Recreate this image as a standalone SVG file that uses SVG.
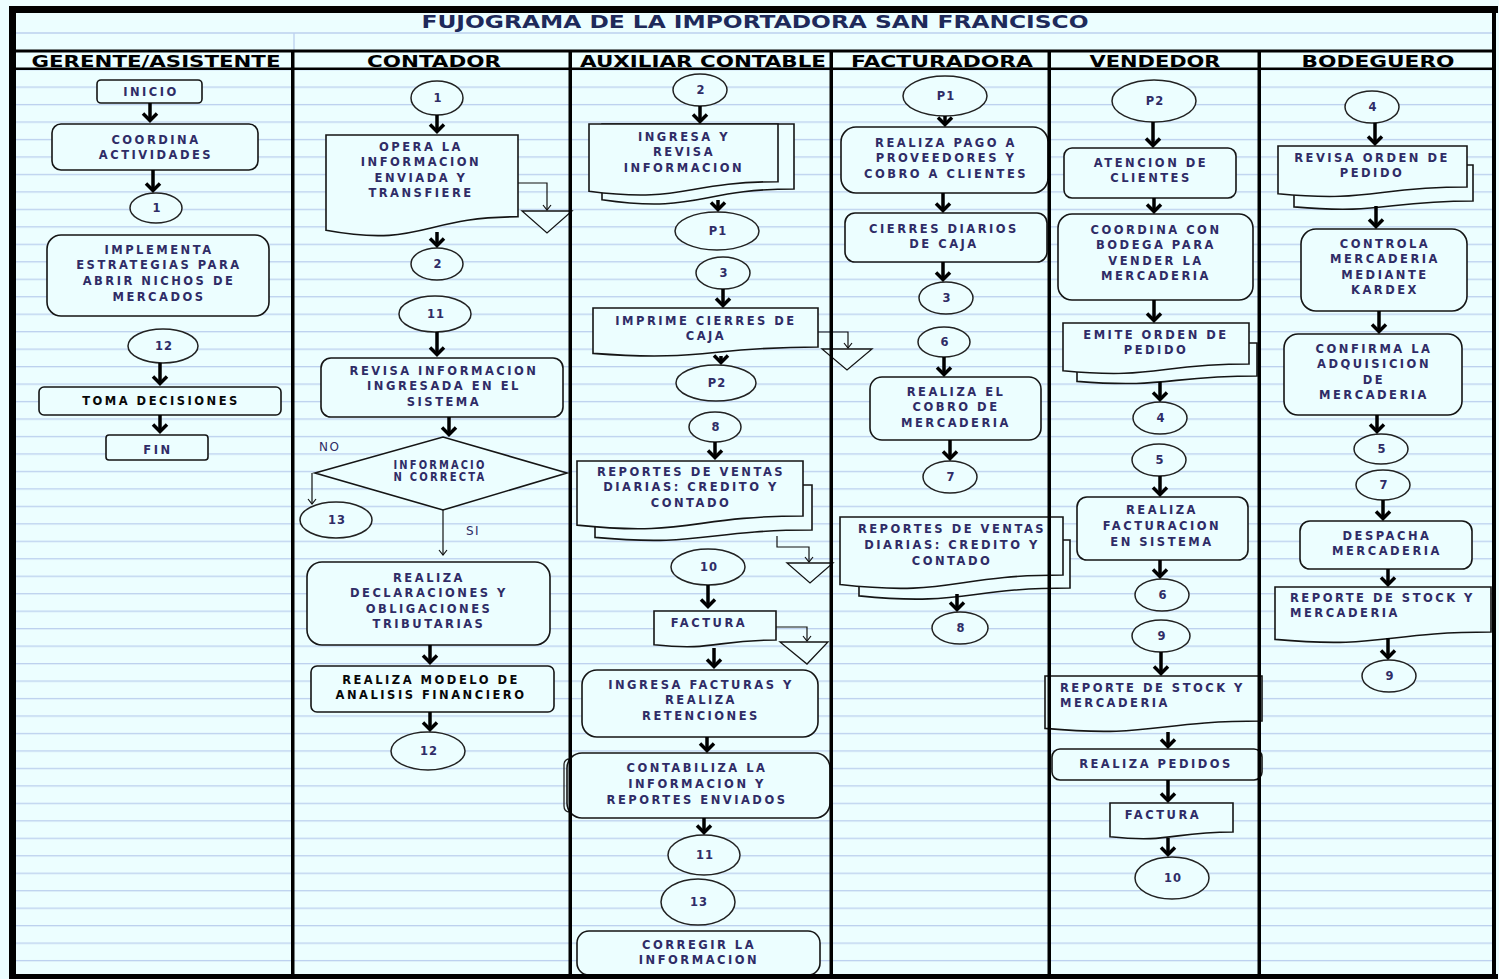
<svg xmlns="http://www.w3.org/2000/svg" width="1499" height="979" viewBox="0 0 1499 979">
<defs>
<style>
.sh{fill:#ECFEFF;stroke:#151515;stroke-width:1.6}
.cn{fill:#ECFEFF;stroke:#222;stroke-width:1.5}
.t{font-family:"DejaVu Sans",sans-serif;font-size:11.5px;font-weight:bold;fill:#2F2C66;letter-spacing:2.5px;text-anchor:middle}
.tl{text-anchor:start}
.tb{fill:#080808}
.tn{letter-spacing:1px}
.hd{font-family:"DejaVu Sans",sans-serif;font-size:15px;font-weight:bold;fill:#000;text-anchor:middle}
.lb{font-family:"DejaVu Sans",sans-serif;font-size:12px;fill:#2F2C66;letter-spacing:1.5px}
.ar{stroke:#000;stroke-width:3.5;fill:none;marker-end:url(#ah)}
.th{stroke:#111;stroke-width:1.2;fill:none;marker-end:url(#as)}
.tri{fill:#ECFEFF;stroke:#151515;stroke-width:1.3}
.frame{fill:#000}
.grid{stroke:#BCD0EE;stroke-width:1.3}
</style>
<marker id="ah" markerUnits="userSpaceOnUse" viewBox="-12 -10 16 20" markerWidth="16" markerHeight="20" refX="0" refY="0" orient="auto">
<path d="M-7,-7 L0,0 L-7,7" fill="none" stroke="#000" stroke-width="3.5"/>
</marker>
<marker id="as" markerUnits="userSpaceOnUse" viewBox="-8 -6 10 12" markerWidth="10" markerHeight="12" refX="0" refY="0" orient="auto">
<path d="M-5,-4 L0,0 L-5,4" fill="none" stroke="#111" stroke-width="1.2"/>
</marker>
<pattern id="gp" x="0" y="69" width="20" height="17.47" patternUnits="userSpaceOnUse">
<rect x="0" y="0" width="20" height="1.3" fill="#BCD0EE"/>
</pattern>
</defs>

<rect x="0" y="0" width="1499" height="979" fill="#ECFEFF"/>
<rect x="15" y="69" width="1480" height="906" fill="url(#gp)"/>
<line class="grid" x1="15" y1="33" x2="1495" y2="33"/>
<line class="grid" x1="294" y1="33" x2="294" y2="51"/>

<text x="755" y="28" font-family="DejaVu Sans, sans-serif" font-size="17" font-weight="bold" fill="#1E2A5A" text-anchor="middle" textLength="667" lengthAdjust="spacingAndGlyphs">FUJOGRAMA DE LA IMPORTADORA SAN FRANCISCO</text>

<g id="headers">
<text class="hd" x="156" y="67" textLength="249" lengthAdjust="spacingAndGlyphs">GERENTE/ASISTENTE</text>
<text class="hd" x="434" y="67" textLength="134" lengthAdjust="spacingAndGlyphs">CONTADOR</text>
<text class="hd" x="703" y="67" textLength="246" lengthAdjust="spacingAndGlyphs">AUXILIAR CONTABLE</text>
<text class="hd" x="942" y="67" textLength="182" lengthAdjust="spacingAndGlyphs">FACTURADORA</text>
<text class="hd" x="1155" y="67" textLength="131" lengthAdjust="spacingAndGlyphs">VENDEDOR</text>
<text class="hd" x="1378" y="67" textLength="153" lengthAdjust="spacingAndGlyphs">BODEGUERO</text>
</g>

<!-- GERENTE/ASISTENTE -->
<g id="g_inicio"><rect class="sh" x="97" y="80" width="105" height="23" rx="4"/><text class="t" x="151" y="96">INICIO</text></g>
<g id="g_coordina"><rect class="sh" x="52" y="124" width="206" height="46" rx="9"/><text class="t" x="156" y="144">COORDINA</text><text class="t" x="156" y="159">ACTIVIDADES</text></g>
<g id="g_c1"><ellipse class="cn" cx="156" cy="208" rx="26" ry="15"/><text class="t tn" x="157" y="212">1</text></g>
<g id="g_implementa"><rect class="sh" x="47" y="235" width="222" height="81" rx="14"/><text class="t" x="159" y="254">IMPLEMENTA</text><text class="t" x="159" y="269">ESTRATEGIAS PARA</text><text class="t" x="159" y="285">ABRIR NICHOS DE</text><text class="t" x="159" y="301">MERCADOS</text></g>
<g id="g_c12"><ellipse class="cn" cx="163" cy="346" rx="35" ry="17"/><text class="t tn" x="164" y="350">12</text></g>
<g id="g_toma"><rect class="sh" x="39" y="387" width="242" height="28" rx="5"/><text class="t tb" x="161" y="405">TOMA DECISIONES</text></g>
<g id="g_fin"><rect class="sh" x="106" y="435" width="102" height="25" rx="3"/><text class="t" x="158" y="454">FIN</text></g>

<!-- CONTADOR -->
<g id="c_c1"><ellipse class="cn" cx="437" cy="98" rx="26" ry="17"/><text class="t tn" x="438" y="102">1</text></g>
<g id="c_opera"><path class="sh" d="M326,135 H518 V216.8 C422,216.8 422,247.9 326,230.3 Z"/><text class="t" x="421" y="151">OPERA LA</text><text class="t" x="421" y="166">INFORMACION</text><text class="t" x="421" y="182">ENVIADA Y</text><text class="t" x="421" y="197">TRANSFIERE</text></g>
<g id="c_tri1"><polygon class="tri" points="522,211 572,211 547,233"/></g>
<g id="c_c2"><ellipse class="cn" cx="437" cy="264" rx="26" ry="16"/><text class="t tn" x="438" y="268">2</text></g>
<g id="c_c11"><ellipse class="cn" cx="435" cy="314" rx="36" ry="18"/><text class="t tn" x="436" y="318">11</text></g>
<g id="c_revisa"><rect class="sh" x="321" y="358" width="242" height="59" rx="10"/><text class="t" x="444" y="375">REVISA INFORMACION</text><text class="t" x="444" y="390">INGRESADA EN EL</text><text class="t" x="444" y="406">SISTEMA</text></g>
<g id="c_decision"><polygon class="sh" points="315,473 443,437 567,473 443,510"/><text class="t" x="440" y="469" font-size="8.5" letter-spacing="0" textLength="93" lengthAdjust="spacingAndGlyphs">INFORMACIO</text><text class="t" x="440" y="481" font-size="8.5" letter-spacing="0" textLength="93" lengthAdjust="spacingAndGlyphs">N CORRECTA</text></g>
<text class="lb" x="319" y="451">NO</text>
<text class="lb" x="466" y="535">SI</text>
<g id="c_c13"><ellipse class="cn" cx="336" cy="520" rx="36" ry="18"/><text class="t tn" x="337" y="524">13</text></g>
<g id="c_declara"><rect class="sh" x="307" y="562" width="243" height="83" rx="15"/><text class="t" x="429" y="582">REALIZA</text><text class="t" x="429" y="597">DECLARACIONES Y</text><text class="t" x="429" y="613">OBLIGACIONES</text><text class="t" x="429" y="628">TRIBUTARIAS</text></g>
<g id="c_modelo"><rect class="sh" x="311" y="666" width="243" height="46" rx="6"/><text class="t tb" x="431" y="684">REALIZA MODELO DE</text><text class="t tb" x="431" y="699">ANALISIS FINANCIERO</text></g>
<g id="c_c12"><ellipse class="cn" cx="428" cy="751" rx="37" ry="19"/><text class="t tn" x="429" y="755">12</text></g>

<!-- AUXILIAR CONTABLE -->
<g id="a_c2"><ellipse class="cn" cx="700" cy="90" rx="27" ry="16"/><text class="t tn" x="701" y="94">2</text></g>
<g id="a_ingresa"><path class="sh" d="M602,124 H794 V189 C698,189 698,213.7 602,199.7 Z"/><path class="sh" d="M589,124 H778 V181.7 C683.5,181.7 683.5,203.7 589,191.2 Z"/><text class="t" x="684" y="141">INGRESA Y</text><text class="t" x="684" y="156">REVISA</text><text class="t" x="684" y="172">INFORMACION</text></g>
<g id="a_p1"><ellipse class="cn" cx="717" cy="231" rx="42" ry="19"/><text class="t tn" x="718" y="235">P1</text></g>
<g id="a_c3"><ellipse class="cn" cx="723" cy="273" rx="27" ry="16"/><text class="t tn" x="724" y="277">3</text></g>
<g id="a_imprime"><path class="sh" d="M593,308 H818 V347 C705.5,347 705.5,361.8 593,353.4 Z"/><text class="t" x="706" y="325">IMPRIME CIERRES DE</text><text class="t" x="706" y="340">CAJA</text></g>
<g id="a_tri1"><polygon class="tri" points="822,349 872,349 847,370"/></g>
<g id="a_p2"><ellipse class="cn" cx="716" cy="383" rx="40" ry="18"/><text class="t tn" x="717" y="387">P2</text></g>
<g id="a_c8"><ellipse class="cn" cx="715" cy="427" rx="26" ry="15"/><text class="t tn" x="716" y="431">8</text></g>
<g id="a_reportes"><path class="sh" d="M595,485 H812 V530 C703.5,530 703.5,547.1 595,537.4 Z"/><path class="sh" d="M577,461 H803 V516 C690,516 690,536.9 577,525.1 Z"/><text class="t" x="691" y="476">REPORTES DE VENTAS</text><text class="t" x="691" y="491">DIARIAS: CREDITO Y</text><text class="t" x="691" y="507">CONTADO</text></g>
<g id="a_tri2"><polygon class="tri" points="787,563 833,563 810,583"/></g>
<g id="a_c10"><ellipse class="cn" cx="708" cy="567" rx="37" ry="18"/><text class="t tn" x="709" y="571">10</text></g>
<g id="a_factura"><path class="sh" d="M654,611 H776 V640 C715,640 715,651.1 654,644.8 Z"/><text class="t" x="709" y="627">FACTURA</text></g>
<g id="a_tri3"><polygon class="tri" points="780,642 828,642 807,664"/></g>
<g id="a_ingresa_fact"><rect class="sh" x="582" y="670" width="236" height="67" rx="15"/><text class="t" x="701" y="689">INGRESA FACTURAS Y</text><text class="t" x="701" y="704">REALIZA</text><text class="t" x="701" y="720">RETENCIONES</text></g>
<g id="a_contabiliza"><path d="M570,759 Q564,759 564,765 V806 Q564,812 570,812" fill="none" stroke="#222" stroke-width="1.3"/><rect class="sh" x="567" y="753" width="263" height="65" rx="15"/><text class="t" x="697" y="772">CONTABILIZA LA</text><text class="t" x="697" y="788">INFORMACION Y</text><text class="t" x="697" y="804">REPORTES ENVIADOS</text></g>
<g id="a_c11"><ellipse class="cn" cx="704" cy="855" rx="36" ry="20"/><text class="t tn" x="705" y="859">11</text></g>
<g id="a_c13"><ellipse class="cn" cx="698" cy="902" rx="37" ry="23"/><text class="t tn" x="699" y="906">13</text></g>
<g id="a_corregir"><rect class="sh" x="577" y="931" width="243" height="44" rx="12"/><text class="t" x="699" y="949">CORREGIR LA</text><text class="t" x="699" y="964">INFORMACION</text></g>

<!-- FACTURADORA -->
<g id="f_p1"><ellipse class="cn" cx="945" cy="96" rx="42" ry="20"/><text class="t tn" x="946" y="100">P1</text></g>
<g id="f_pago"><rect class="sh" x="841" y="127" width="207" height="66" rx="15"/><text class="t" x="946" y="147">REALIZA PAGO A</text><text class="t" x="946" y="162">PROVEEDORES Y</text><text class="t" x="946" y="178">COBRO A CLIENTES</text></g>
<g id="f_cierres"><rect class="sh" x="845" y="213" width="202" height="49" rx="10"/><text class="t" x="944" y="233">CIERRES DIARIOS</text><text class="t" x="944" y="248">DE CAJA</text></g>
<g id="f_c3"><ellipse class="cn" cx="946" cy="298" rx="27" ry="16"/><text class="t tn" x="947" y="302">3</text></g>
<g id="f_c6"><ellipse class="cn" cx="944" cy="342" rx="26" ry="15"/><text class="t tn" x="945" y="346">6</text></g>
<g id="f_cobro"><rect class="sh" x="870" y="377" width="171" height="63" rx="12"/><text class="t" x="956" y="396">REALIZA EL</text><text class="t" x="956" y="411">COBRO DE</text><text class="t" x="956" y="427">MERCADERIA</text></g>
<g id="f_c7"><ellipse class="cn" cx="950" cy="477" rx="27" ry="16"/><text class="t tn" x="951" y="481">7</text></g>
<g id="f_reportes"><path class="sh" d="M859,540 H1070 V588 C964.5,588 964.5,606.3 859,595.9 Z"/><path class="sh" d="M840,517 H1063 V575 C951.5,575 951.5,597 840,584.5 Z"/><text class="t" x="952" y="533">REPORTES DE VENTAS</text><text class="t" x="952" y="549">DIARIAS: CREDITO Y</text><text class="t" x="952" y="565">CONTADO</text></g>
<g id="f_c8"><ellipse class="cn" cx="960" cy="628" rx="28" ry="16"/><text class="t tn" x="961" y="632">8</text></g>

<!-- VENDEDOR -->
<g id="v_p2"><ellipse class="cn" cx="1154" cy="101" rx="42" ry="21"/><text class="t tn" x="1155" y="105">P2</text></g>
<g id="v_atencion"><rect class="sh" x="1064" y="148" width="172" height="50" rx="8"/><text class="t" x="1151" y="167">ATENCION DE</text><text class="t" x="1151" y="182">CLIENTES</text></g>
<g id="v_coord"><rect class="sh" x="1058" y="214" width="195" height="86" rx="14"/><text class="t" x="1156" y="234">COORDINA CON</text><text class="t" x="1156" y="249">BODEGA PARA</text><text class="t" x="1156" y="265">VENDER LA</text><text class="t" x="1156" y="280">MERCADERIA</text></g>
<g id="v_emite"><path class="sh" d="M1077,343 H1257 V376 C1167,376 1167,388.5 1077,381.4 Z"/><path class="sh" d="M1063,323 H1249 V364 C1156,364 1156,379.6 1063,370.7 Z"/><text class="t" x="1156" y="339">EMITE ORDEN DE</text><text class="t" x="1156" y="354">PEDIDO</text></g>
<g id="v_c4"><ellipse class="cn" cx="1160" cy="418" rx="27" ry="16"/><text class="t tn" x="1161" y="422">4</text></g>
<g id="v_c5"><ellipse class="cn" cx="1159" cy="460" rx="27" ry="16"/><text class="t tn" x="1160" y="464">5</text></g>
<g id="v_facturacion"><rect class="sh" x="1077" y="497" width="171" height="63" rx="10"/><text class="t" x="1162" y="514">REALIZA</text><text class="t" x="1162" y="530">FACTURACION</text><text class="t" x="1162" y="546">EN SISTEMA</text></g>
<g id="v_c6"><ellipse class="cn" cx="1162" cy="595" rx="27" ry="16"/><text class="t tn" x="1163" y="599">6</text></g>
<g id="v_c9"><ellipse class="cn" cx="1161" cy="636" rx="29" ry="16"/><text class="t tn" x="1162" y="640">9</text></g>
<g id="v_reporte"><path class="sh" d="M1045,676 H1262 V721 C1153.5,721 1153.5,738.1 1045,728.4 Z"/><text class="t tl" x="1060" y="692">REPORTE DE STOCK Y</text><text class="t tl" x="1060" y="707">MERCADERIA</text></g>
<g id="v_pedidos"><rect class="sh" x="1052" y="749" width="210" height="31" rx="8"/><text class="t" x="1156" y="768">REALIZA PEDIDOS</text></g>
<g id="v_factura"><path class="sh" d="M1110,803 H1233 V832 C1171.5,832 1171.5,843.1 1110,836.8 Z"/><text class="t" x="1163" y="819">FACTURA</text></g>
<g id="v_c10"><ellipse class="cn" cx="1172" cy="878" rx="37" ry="21"/><text class="t tn" x="1173" y="882">10</text></g>

<!-- BODEGUERO -->
<g id="b_c4"><ellipse class="cn" cx="1372" cy="107" rx="27" ry="16"/><text class="t tn" x="1373" y="111">4</text></g>
<g id="b_revisa"><path class="sh" d="M1294,165 H1473 V201 C1383.5,201 1383.5,214.7 1294,206.9 Z"/><path class="sh" d="M1278,146 H1467 V187 C1372.5,187 1372.5,202.6 1278,193.7 Z"/><text class="t" x="1372" y="162">REVISA ORDEN DE</text><text class="t" x="1372" y="177">PEDIDO</text></g>
<g id="b_controla"><rect class="sh" x="1301" y="229" width="166" height="82" rx="15"/><text class="t" x="1385" y="248">CONTROLA</text><text class="t" x="1385" y="263">MERCADERIA</text><text class="t" x="1385" y="279">MEDIANTE</text><text class="t" x="1385" y="294">KARDEX</text></g>
<g id="b_confirma"><rect class="sh" x="1284" y="334" width="178" height="81" rx="14"/><text class="t" x="1374" y="353">CONFIRMA LA</text><text class="t" x="1374" y="368">ADQUISICION</text><text class="t" x="1374" y="384">DE</text><text class="t" x="1374" y="399">MERCADERIA</text></g>
<g id="b_c5"><ellipse class="cn" cx="1381" cy="449" rx="27" ry="15"/><text class="t tn" x="1382" y="453">5</text></g>
<g id="b_c7"><ellipse class="cn" cx="1383" cy="485" rx="27" ry="15"/><text class="t tn" x="1384" y="489">7</text></g>
<g id="b_despacha"><rect class="sh" x="1300" y="521" width="172" height="48" rx="10"/><text class="t" x="1387" y="540">DESPACHA</text><text class="t" x="1387" y="555">MERCADERIA</text></g>
<g id="b_reporte"><path class="sh" d="M1275,587 H1491 V632 C1383,632 1383,649.1 1275,639.4 Z"/><text class="t tl" x="1290" y="602">REPORTE DE STOCK Y</text><text class="t tl" x="1290" y="617">MERCADERIA</text></g>
<g id="b_c9"><ellipse class="cn" cx="1389" cy="676" rx="27" ry="16"/><text class="t tn" x="1390" y="680">9</text></g>

<g id="connectors">
<path class="ar" d="M150,103 V120.5"/>
<path class="ar" d="M153,170 V190.5"/>
<path class="ar" d="M160,363 V383.5"/>
<path class="ar" d="M160,415 V431.5"/>
<path class="ar" d="M437,115 V131.5"/>
<path class="ar" d="M437,232 V245.5"/>
<path class="ar" d="M437,332 V354.5"/>
<path class="ar" d="M449,417 V434.5"/>
<path class="ar" d="M430,645 V662.5"/>
<path class="ar" d="M430,712 V729.5"/>
<path class="ar" d="M700,106 V121.5"/>
<path class="ar" d="M718,200 V209.5"/>
<path class="ar" d="M723,289 V305.5"/>
<path class="ar" d="M721,356 V362.5"/>
<path class="ar" d="M715,442 V457.5"/>
<path class="ar" d="M708,585 V606.5"/>
<path class="ar" d="M714,648 V666.5"/>
<path class="ar" d="M707,737 V750.5"/>
<path class="ar" d="M704,818 V832.5"/>
<path class="ar" d="M945,116 V124.5"/>
<path class="ar" d="M943,193 V210.5"/>
<path class="ar" d="M943,262 V279.5"/>
<path class="ar" d="M944,357 V374.5"/>
<path class="ar" d="M950,440 V458.5"/>
<path class="ar" d="M957,594 V609.5"/>
<path class="ar" d="M1153,122 V145.5"/>
<path class="ar" d="M1154,198 V211.5"/>
<path class="ar" d="M1154,300 V320.5"/>
<path class="ar" d="M1160,382 V399.5"/>
<path class="ar" d="M1160,476 V494.5"/>
<path class="ar" d="M1160,560 V576.5"/>
<path class="ar" d="M1161,652 V673.5"/>
<path class="ar" d="M1168,732 V746.5"/>
<path class="ar" d="M1168,780 V800.5"/>
<path class="ar" d="M1168,838 V854.5"/>
<path class="ar" d="M1375,123 V143.5"/>
<path class="ar" d="M1376,206 V226.5"/>
<path class="ar" d="M1379,311 V331.5"/>
<path class="ar" d="M1377,415 V431.5"/>
<path class="ar" d="M1383,500 V518.5"/>
<path class="ar" d="M1388,569 V584.5"/>
<path class="ar" d="M1388,638 V657.5"/>
<path class="th" d="M518,183 H547 V210"/>
<path class="th" d="M818,332 H848 V348"/>
<path class="th" d="M777,536 V547 H809 V562"/>
<path class="th" d="M776,627 H807 V641"/>
<path class="th" d="M312,473 V504"/>
<path class="th" d="M443,510 V555"/>
</g>

<g id="frame">
<rect class="frame" x="9" y="6" width="1489" height="7"/>
<rect class="frame" x="9" y="6" width="7" height="972"/>
<rect class="frame" x="1492" y="6" width="4" height="972"/>
<rect class="frame" x="9" y="974" width="1489" height="5"/>
<rect class="frame" x="15" y="49.5" width="1480" height="3"/>
<rect class="frame" x="15" y="67.5" width="1480" height="2.5"/>
<rect class="frame" x="291" y="50" width="3.5" height="926"/>
<rect class="frame" x="568.5" y="50" width="3.5" height="926"/>
<rect class="frame" x="829.5" y="50" width="3.5" height="926"/>
<rect class="frame" x="1047.5" y="50" width="3.5" height="926"/>
<rect class="frame" x="1257.5" y="50" width="3.5" height="926"/>
</g>
</svg>
